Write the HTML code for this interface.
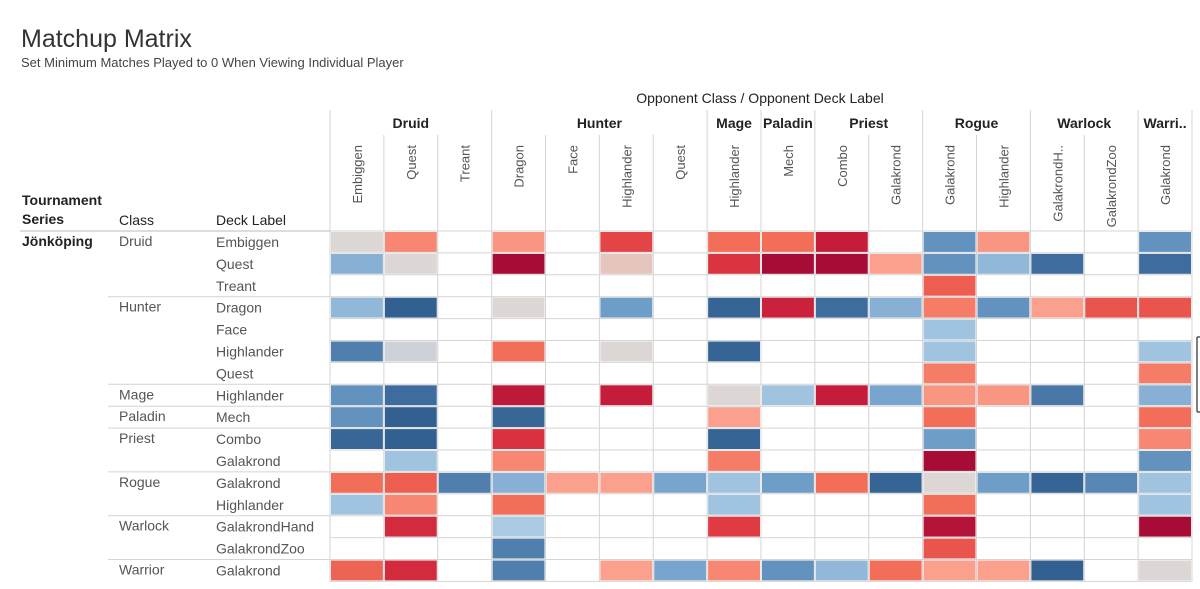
<!DOCTYPE html>
<html><head><meta charset="utf-8"><style>
body{margin:0;background:#fff;font-family:"Liberation Sans",sans-serif;}
svg text{font-family:"Liberation Sans","DejaVu Sans",sans-serif;}
</style></head><body>
<svg id="chart" width="1200" height="584" viewBox="0 0 1200 584" xmlns="http://www.w3.org/2000/svg">
<text x="21" y="47" font-size="25" fill="#333">Matchup Matrix</text>
<text x="21" y="67" font-size="13" fill="#444">Set Minimum Matches Played to 0 When Viewing Individual Player</text>
<text x="760" y="103" font-size="14" fill="#222" text-anchor="middle">Opponent Class  /  Opponent Deck Label</text>
<text x="22" y="205" font-size="14" font-weight="bold" fill="#222">Tournament</text>
<text x="22" y="224" font-size="14" font-weight="bold" fill="#222">Series</text>
<text x="119" y="225" font-size="14" fill="#222">Class</text>
<text x="216" y="225" font-size="14" fill="#222">Deck Label</text>
<text x="22" y="246" font-size="14" font-weight="bold" fill="#222">Jönköping</text>
<g id="grid"></g><g id="cells"></g><g id="labels"></g>
<path d="M1197 337 H1200 M1197 337 V412 M1197 412 H1200" stroke="#555" stroke-width="1.5" fill="none"/>
</svg>
<script>
const oppClasses=["Druid","Druid","Druid","Hunter","Hunter","Hunter","Hunter","Mage","Paladin","Priest","Priest","Rogue","Rogue","Warlock","Warlock","Warrior"];
const oppDecks=["Embiggen","Quest","Treant","Dragon","Face","Highlander","Quest","Highlander","Mech","Combo","Galakrond","Galakrond","Highlander","GalakrondH..","GalakrondZoo","Galakrond"];
const classGroups=[["Druid",0,3],["Hunter",3,7],["Mage",7,8],["Paladin",8,9],["Priest",9,11],["Rogue",11,13],["Warlock",13,15],["Warri..",15,16]];
const rowClasses=["Druid","","","Hunter","","","","Mage","Paladin","Priest","","Rogue","","Warlock","","Warrior"];
const rowDecks=["Embiggen","Quest","Treant","Dragon","Face","Highlander","Quest","Highlander","Mech","Combo","Galakrond","Galakrond","Highlander","GalakrondHand","GalakrondZoo","Galakrond"];
const N=null;
const winRates=[
[50,65,N,62,N,78,N,70,70,90,N,25,62,N,N,25],
[33,50,N,100,N,53,N,82,100,100,60,25,35,15,N,15],
[N,N,N,N,N,N,N,N,N,N,N,73,N,N,N,N],
[35,5,N,50,N,28,N,8,88,15,33,67,25,60,75,75],
[N,N,N,N,N,N,N,N,N,N,N,38,N,N,N,N],
[20,47,N,70,N,50,N,8,N,N,N,38,N,N,N,38],
[N,N,N,N,N,N,N,N,N,N,N,67,N,N,N,67],
[25,15,N,92,N,90,N,50,38,90,30,62,62,18,N,33],
[25,5,N,10,N,N,N,60,N,N,N,70,N,N,N,70],
[10,5,N,83,N,N,N,8,N,N,N,28,N,N,N,65],
[N,38,N,65,N,N,N,67,N,N,N,100,N,N,N,25],
[70,73,20,33,60,60,30,38,28,70,8,50,28,8,22,38],
[38,65,N,70,N,N,N,38,N,N,N,70,N,N,N,38],
[N,85,N,40,N,N,N,80,N,N,N,95,N,N,N,100],
[N,N,N,20,N,N,N,N,N,N,N,75,N,N,N,N],
[72,85,N,20,N,60,30,65,25,35,70,60,60,5,N,50]];
const stops=[[0,[44,90,138]],[15,[62,108,158]],[28,[110,158,200]],[40,[170,202,228]],[50,[220,214,212]],[60,[251,160,140]],[70,[242,110,88]],[80,[224,58,66]],[90,[196,28,58]],[100,[166,12,54]]];
function color(v){for(let i=1;i<stops.length;i++){if(v<=stops[i][0]){const[a,ca]=stops[i-1],[b,cb]=stops[i];const t=(v-a)/(b-a);return`rgb(${ca.map((c,k)=>Math.round(c+(cb[k]-c)*t)).join(",")})`;}}return"rgb(166,12,54)";}
const X0=330,CW=53.875,Y0=231,RH=21.9;
const xs=i=>X0+i*CW, ys=j=>Y0+j*RH;
const NS="http://www.w3.org/2000/svg";
function mk(tag,attrs,parent){const e=document.createElementNS(NS,tag);for(const k in attrs)e.setAttribute(k,attrs[k]);parent.appendChild(e);return e;}
const grid=document.getElementById("grid"),cells=document.getElementById("cells"),labels=document.getElementById("labels");
// grid
for(let i=0;i<=16;i++){const g=classGroups.some(c=>c[1]===i)||i===16;const l=mk("line",{x1:xs(i),x2:xs(i),y1:g?110:135,y2:ys(16),stroke:"#d4d4d4","stroke-width":1},grid);

}
for(let j=0;j<=16;j++){const l=mk("line",{x1:xs(0),x2:xs(16),y1:ys(j),y2:ys(j),stroke:"#d4d4d4","stroke-width":1},grid);

}
rowClasses.forEach((c,j)=>{if(c){const l=mk("line",{x1:108,x2:xs(0),y1:ys(j),y2:ys(j),stroke:"#d4d4d4","stroke-width":1},grid);

}});
const hl=mk("line",{x1:20,x2:xs(0),y1:ys(0),y2:ys(0),stroke:"#bbb","stroke-width":1},grid);


// cells
winRates.forEach((row,j)=>row.forEach((v,i)=>{if(v===null)return;const r=mk("rect",{x:xs(i)+1,y:ys(j)+1,width:CW-2,height:RH-2,fill:color(v)},cells);

}));
// class headers
classGroups.forEach(([n,a,b])=>{const t=mk("text",{x:(xs(a)+xs(b))/2,y:128,"font-size":14,"font-weight":"bold","text-anchor":"middle",fill:"#222"},labels);t.textContent=n;

});
oppDecks.forEach((d,i)=>{const cx=xs(i)+CW/2+5;const t=mk("text",{x:cx,y:145,"font-size":13,fill:"#555","text-anchor":"end",transform:`rotate(-90 ${cx} 145)`},labels);t.textContent=d;

});
rowClasses.forEach((c,j)=>{if(!c)return;const t=mk("text",{x:119,y:ys(j)+15,"font-size":14,fill:"#555"},labels);t.textContent=c;

});
rowDecks.forEach((d,j)=>{const t=mk("text",{x:216,y:ys(j)+16,"font-size":14,fill:"#555"},labels);t.textContent=d;

});
</script>
</body></html>
